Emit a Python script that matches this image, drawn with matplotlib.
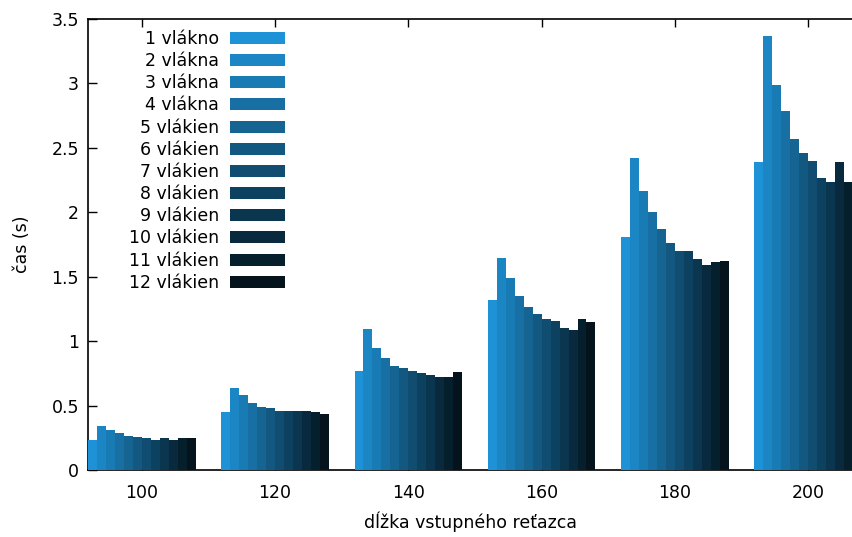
import numpy as np
import matplotlib
matplotlib.use('Agg')
import matplotlib.pyplot as plt

# input string lengths (x groups)
lengths = [100, 120, 140, 160, 180, 200]
thread_labels = ['1 vlákno', '2 vlákna', '3 vlákna', '4 vlákna',
                 '5 vlákien', '6 vlákien', '7 vlákien', '8 vlákien',
                 '9 vlákien', '10 vlákien', '11 vlákien', '12 vlákien']

# time (s) per length, one value per thread count 1..12
t100 = [0.233, 0.341, 0.308, 0.287, 0.266, 0.256, 0.246, 0.233, 0.246, 0.233, 0.246, 0.246]
t120 = [0.448, 0.634, 0.580, 0.523, 0.492, 0.479, 0.458, 0.458, 0.458, 0.458, 0.448, 0.437]
t140 = [0.771, 1.094, 0.944, 0.869, 0.807, 0.792, 0.771, 0.750, 0.740, 0.722, 0.722, 0.758]
t160 = [1.319, 1.643, 1.492, 1.353, 1.267, 1.213, 1.169, 1.159, 1.105, 1.084, 1.169, 1.149]
t180 = [1.806, 2.421, 2.160, 2.000, 1.870, 1.760, 1.700, 1.700, 1.635, 1.590, 1.612, 1.622]
t200 = [2.385, 3.368, 2.988, 2.783, 2.569, 2.460, 2.394, 2.265, 2.234, 2.385, 2.234, 2.240]

times = np.array([t100, t120, t140, t160, t180, t200])

n_groups, n_threads = times.shape
group_frac = 0.808
w = group_frac / n_threads

base = np.array([30, 146, 214]) / 255.0
shade = np.linspace(1.0, 0.13, n_threads)
colors = [tuple(base * s) for s in shade]

plt.rcParams['font.family'] = ['DejaVu Sans']
plt.rcParams['font.size'] = 12.5

fig = plt.figure(figsize=(8.53, 5.37), dpi=100)
ax = fig.add_axes([88 / 853, 1 - 470 / 537, 1 - 88 / 853, (470 - 18.7) / 537])

x = np.arange(n_groups)
start = x - group_frac / 2
for j in range(n_threads):
    ax.bar(start + j * w, times[:, j], width=w, align='edge',
           color=colors[j], linewidth=0, label=thread_labels[j], zorder=3)

ax.set_xlim(-group_frac / 2, n_groups - 1 - group_frac / 2 + (n_threads - 1) * w)
ax.set_ylim(0, 3.5)
ax.set_xticks(x)
ax.set_xticklabels([str(v) for v in lengths])
yt = np.arange(0, 3.51, 0.5)
ax.set_yticks(yt)
ax.set_yticklabels(['%g' % v for v in yt])

for s in ['left', 'top', 'bottom']:
    ax.spines[s].set_linewidth(1.2)
ax.spines['right'].set_visible(False)
ax.tick_params(axis='y', direction='in', length=6.5, width=1.0, pad=6.5, right=False)
ax.tick_params(axis='x', direction='in', length=6, width=1.0, pad=10, top=True)

ax.set_xlabel('dĺžka vstupného reťazca', labelpad=7)
ax.set_ylabel('čas (s)', labelpad=15)

leg = ax.legend(loc='upper right', bbox_to_anchor=(285 / 853, 1 - 30 / 537),
                bbox_transform=fig.transFigure, frameon=False, markerfirst=False,
                handlelength=3.17, handleheight=0.69, handletextpad=0.63,
                labelspacing=0.24, borderpad=0, borderaxespad=0)

fig.savefig('out.png', dpi=100)
